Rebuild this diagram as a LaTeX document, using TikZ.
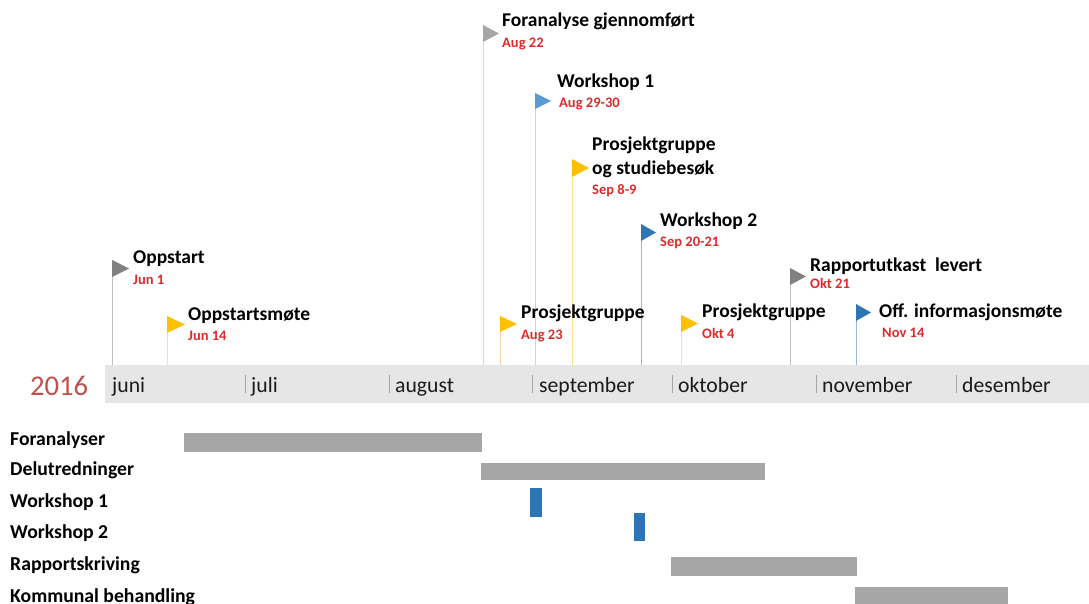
\documentclass[tikz,border=0pt]{standalone}
\usepackage{fontspec}
\setmainfont{Carlito}
\usetikzlibrary{positioning}
\usepackage{color}

\definecolor{band}{HTML}{E6E6E6}
\definecolor{tick}{HTML}{A6A6A6}
\definecolor{bar}{HTML}{A6A6A6}
\definecolor{wsblue}{HTML}{2E75B6}
\definecolor{ltblue}{HTML}{5B9BD5}
\definecolor{gold}{HTML}{FFC000}
\definecolor{flaggrey}{HTML}{808080}
\definecolor{ltgrey}{HTML}{A6A6A6}
\definecolor{datered}{HTML}{DC2B2B}
\definecolor{yearred}{HTML}{C0504D}
\definecolor{month}{HTML}{1A1A1A}

\begin{document}
\begin{tikzpicture}[x = 1pt, y = -1pt,
  title/.style = {anchor = base west, inner sep = 0pt, font = \bfseries\fontsize{19.5}{22}\selectfont},
  date/.style = {anchor = base west, inner sep = 0pt, text = datered, font = \bfseries\fontsize{14.5}{17}\selectfont},
  mon/.style = {anchor = base west, inner sep = 0pt, text = month, font = \fontsize{21.7}{24}\selectfont},
  task/.style = {anchor = base west, inner sep = 0pt, font = \bfseries\fontsize{19.7}{22}\selectfont},
  pole/.style = {line width = 0.8pt}]
  \useasboundingbox (0,0) rectangle (1089,604);

  % time band
  \fill [band] (105,365) rectangle (1089,403);
  \node (year) at (30,395) [anchor = base west, inner sep = 0pt, text = yearred, font = \fontsize{28.6}{32}\selectfont] {2016};
  \node (jun) at (112,392) [mon] {juni};
  \node (jul) at (251,392) [mon] {juli};
  \node (aug) at (395,392) [mon] {august};
  \node (sep) at (539,392) [mon] {september};
  \node (okt) at (678,392) [mon] {oktober};
  \node (nov) at (822,392) [mon] {november};
  \node (des) at (962,392) [mon] {desember};
  \draw [tick, line width = 0.8pt] (245,375) -- (245,393);
  \draw [tick, line width = 0.8pt] (389,375) -- (389,393);
  \draw [tick, line width = 0.8pt] (532,375) -- (532,393);
  \draw [tick, line width = 0.8pt] (672,375) -- (672,393);
  \draw [tick, line width = 0.8pt] (816,375) -- (816,393);
  \draw [tick, line width = 0.8pt] (956,375) -- (956,393);

  % milestones
  \coordinate (opp)   at (112,260);  \coordinate (opp0)   at (112,365);
  \coordinate (oppm)  at (167,316);  \coordinate (oppm0)  at (167,365);
  \coordinate (fa)    at (483,25);   \coordinate (fa0)    at (483,365);
  \coordinate (wsa)   at (535,93);   \coordinate (wsa0)   at (535,365);
  \coordinate (pgs)   at (572,159);  \coordinate (pgs0)   at (572,365);
  \coordinate (wsb)   at (641,224);  \coordinate (wsb0)   at (641,365);
  \coordinate (pga)   at (500,316);  \coordinate (pga0)   at (500,365);
  \coordinate (pgo)   at (681,315);  \coordinate (pgo0)   at (681,365);
  \coordinate (rap)   at (790,268);  \coordinate (rap0)   at (790,365);
  \coordinate (off)   at (856,304);  \coordinate (off0)   at (856,365);

  \draw [pole, color = black!25] (opp) -- (opp0);
  \draw [pole, color = gold!45] (oppm) -- (oppm0);
  \draw [pole, color = black!15] (fa) -- (fa0);
  \draw [pole, color = ltblue!40] (wsa) -- (wsa0);
  \draw [pole, color = gold!45] (pgs) -- (pgs0);
  \draw [pole, color = wsblue!50] (wsb) -- (wsb0);
  \draw [pole, color = orange!35] (pga) -- (pga0);
  \draw [pole, color = gold!45] (pgo) -- (pgo0);
  \draw [pole, color = black!25] (rap) -- (rap0);
  \draw [pole, color = wsblue!50] (off) -- (off0);

  \fill [flaggrey] (opp) -- ++(17,8.5) -- ++(-17,8.5) -- cycle;
  \fill [gold] (oppm) -- ++(18,8.5) -- ++(-18,8.5) -- cycle;
  \fill [ltgrey] (fa) -- ++(16,8.5) -- ++(-16,8.5) -- cycle;
  \fill [ltblue] (wsa) -- ++(16,8) -- ++(-16,8) -- cycle;
  \fill [gold] (pgs) -- ++(17,9) -- ++(-17,9) -- cycle;
  \fill [wsblue] (wsb) -- ++(15,8.5) -- ++(-15,8.5) -- cycle;
  \fill [gold] (pga) -- ++(17,8) -- ++(-17,8) -- cycle;
  \fill [gold] (pgo) -- ++(17,8.5) -- ++(-17,8.5) -- cycle;
  \fill [flaggrey] (rap) -- ++(16,8.5) -- ++(-16,8.5) -- cycle;
  \fill [wsblue] (off) -- ++(15,8.5) -- ++(-15,8.5) -- cycle;

  \node (opp t)  at (133,263) [title] {Oppstart};
  \node (opp d)  at (133,284) [date] {Jun 1};
  \node (oppm t) at (188,320) [title] {Oppstartsmøte};
  \node (oppm d) at (188,340) [date] {Jun 14};
  \node (fa t)   at (502,27)  [title] {Foranalyse gjennomført};
  \node (fa d)   at (502,48)  [date] {Aug 22};
  \node (wsa t)  at (557,88)  [title] {Workshop 1};
  \node (wsa d)  at (559,108) [date] {Aug 29-30};
  \node (pgs t)  at (592,151) [title] {Prosjektgruppe};
  \node (pgs u)  at (592,175) [title] {og studiebesøk};
  \node (pgs d)  at (592,195) [date] {Sep 8-9};
  \node (wsb t)  at (660,226) [title] {Workshop 2};
  \node (wsb d)  at (660,246) [date] {Sep 20-21};
  \node (pga t)  at (521,318) [title] {Prosjektgruppe};
  \node (pga d)  at (521,339) [date] {Aug 23};
  \node (pgo t)  at (702,317) [title] {Prosjektgruppe};
  \node (pgo d)  at (702,338) [date] {Okt 4};
  \node (rap t)  at (810,271) [title] {Rapportutkast\ \ levert};
  \node (rap d)  at (810,288) [date] {Okt 21};
  \node (off t)  at (879,317) [title] {Off. informasjonsmøte};
  \node (off d)  at (882,337) [date] {Nov 14};

  % gantt
  \node (t1) at (10,445) [task] {Foranalyser};
  \node (t2) at (10,475) [task] {Delutredninger};
  \node (t3) at (10,507) [task] {Workshop 1};
  \node (t4) at (10,538) [task] {Workshop 2};
  \node (t5) at (10,570) [task] {Rapportskriving};
  \node (t6) at (10,602) [task] {Kommunal behandling};
  \fill [bar] (184,433) rectangle (482,452);
  \fill [bar] (481,463) rectangle (765,480);
  \fill [wsblue] (530,488) rectangle (542,517);
  \fill [wsblue] (634,513) rectangle (645,541);
  \fill [bar] (671,557) rectangle (857,576);
  \fill [bar] (855,587) rectangle (1008,604);
\end{tikzpicture}
\end{document}
